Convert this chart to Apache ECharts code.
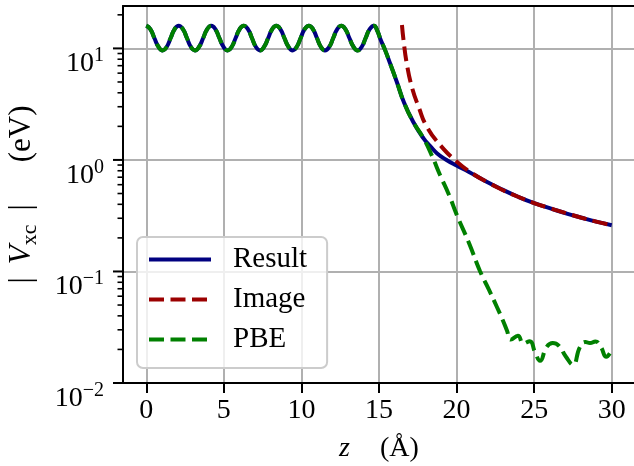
<!DOCTYPE html>
<html>
<head>
<meta charset="utf-8">
<script src="https://cdn.jsdelivr.net/npm/echarts@6/dist/echarts.min.js"></script>
<style>
html, body { margin: 0; padding: 0; background: #fff; }
#chart { width: 634px; height: 466px; }
</style>
</head>
<body>
<div id="chart"></div>
<script>
// Shared part of the potential: oscillations in the slab and the start of the decay (z in Å, |Vxc| in eV)
const coreZ = [
  0.00, 0.26, 0.52, 0.79, 1.05, 1.31, 1.57, 1.83,
  2.09, 2.36, 2.62, 2.88, 3.14, 3.40, 3.67, 3.93,
  4.19, 4.45, 4.71, 4.98, 5.24, 5.50, 5.76, 6.02,
  6.28, 6.55, 6.81, 7.07, 7.33, 7.59, 7.86, 8.12,
  8.38, 8.64, 8.90, 9.17, 9.43, 9.69, 9.95, 10.21,
  10.48, 10.74, 11.00, 11.26, 11.52, 11.79, 12.05, 12.31,
  12.57, 12.83, 13.09, 13.36, 13.62, 13.88, 14.14, 14.40,
  14.67, 14.90, 15.10, 15.40, 15.72, 16.15, 16.60, 17.20, 17.87
];
const coreV = [
  16.0, 14.9, 12.4, 10.3, 9.6, 10.3, 12.4, 14.9,
  16.0, 14.9, 12.4, 10.3, 9.6, 10.3, 12.4, 14.9,
  16.0, 14.9, 12.4, 10.3, 9.6, 10.3, 12.4, 14.9,
  16.0, 14.9, 12.4, 10.3, 9.6, 10.3, 12.4, 14.9,
  16.0, 14.9, 12.4, 10.3, 9.6, 10.3, 12.4, 14.9,
  16.0, 14.9, 12.4, 10.3, 9.6, 10.3, 12.4, 14.9,
  16.0, 14.9, 12.4, 10.3, 9.6, 10.3, 12.4, 14.9,
  16.0, 14.3, 12.0, 9.6, 7.3, 5.0, 3.3, 2.2, 1.56
];

// Result: slow image-like tail in vacuum
const resultTailZ = [18.3, 18.73, 19.3, 20.0, 20.8, 21.7, 22.8, 24.0, 25.0, 26.0, 27.1, 28.0, 29.0, 30.0];
const resultTailV = [1.33, 1.15, 1.01, 0.89, 0.78, 0.665, 0.555, 0.465, 0.41, 0.37, 0.33, 0.305, 0.28, 0.26];

// Image potential
const imageZ = [16.48, 16.58, 16.79, 17.12, 17.55, 18.09, 19.0, 20.0, 21.0, 22.0, 23.0, 24.0, 25.0, 26.0, 27.0, 28.0, 29.0, 30.0];
const imageV = [16.2, 11.9, 7.3, 4.5, 3.0, 1.98, 1.33, 0.97, 0.76, 0.63, 0.535, 0.465, 0.41, 0.37, 0.335, 0.305, 0.28, 0.26];

// PBE: exponential decay down to numerical noise
const pbeTailZ = [18.4, 18.94, 19.5, 20.02, 20.8, 21.52, 22.1, 22.6, 23.0, 23.24, 23.5, 23.95, 24.3, 24.72, 25.05, 25.38,
  25.8, 26.2, 26.6, 27.05, 27.5, 27.95, 28.3, 28.6, 28.95, 29.3, 29.65, 30.0];
const pbeTailV = [1.1, 0.73, 0.49, 0.32, 0.18, 0.10, 0.068, 0.048, 0.036, 0.0297, 0.0245, 0.0265, 0.0226, 0.0237, 0.019, 0.0158,
  0.021, 0.0228, 0.0215, 0.0172, 0.0146, 0.021, 0.0233, 0.0228, 0.0236, 0.021, 0.0172, 0.0198];

// Axis ranges and ticks
const X_MIN = -1.5, X_MAX = 31.5;
const Y_MIN = 0.01, Y_MAX = 24;
const xTicks = [0, 5, 10, 15, 20, 25, 30];
const yMajorTicks = [0.01, 0.1, 1, 10];
const yMinorTicks = [
  0.02, 0.03, 0.04, 0.05, 0.06, 0.07, 0.08, 0.09,
  0.2, 0.3, 0.4, 0.5, 0.6, 0.7, 0.8, 0.9,
  2, 3, 4, 5, 6, 7, 8, 9,
  20
];

const FONT = 'Liberation Serif';
const LW = 4;
const DASH = [15, 6.5];

function pairs(zs, vs) { return zs.map((z, i) => [z, vs[i]]); }
const resultData = pairs(coreZ.concat(resultTailZ), coreV.concat(resultTailV));
const imageData = pairs(imageZ, imageV);
const pbeData = pairs(coreZ.concat(pbeTailZ), coreV.concat(pbeTailV));

// outward tick marks on the log axis, placed through the axis scale
function tickSeries(values, len, width) {
  return {
    type: 'custom',
    silent: true,
    clip: false,
    z: 5,
    data: values.map(v => [X_MIN, v]),
    encode: { x: 0, y: 1 },
    renderItem(params, api) {
      const p = api.coord([api.value(0), api.value(1)]);
      return {
        type: 'line',
        shape: { x1: p[0] - len, y1: p[1], x2: p[0], y2: p[1] },
        style: { stroke: '#000', lineWidth: width }
      };
    }
  };
}

function powLabel(v) {
  const e = Math.log10(v);
  const r = Math.round(e);
  if (Math.abs(e - r) > 1e-6) return '';
  const sup = r < 0 ? '\u2212' + (-r) : String(r);
  return '{b|10}{s|' + sup + '}';
}

const YN = 31;
const chart = echarts.init(document.getElementById('chart'), null, { renderer: 'canvas' });
chart.setOption({
  animation: false,
  backgroundColor: '#fff',
  textStyle: { fontFamily: FONT },
  grid: { left: 123, right: -1, top: 6, bottom: 83, containLabel: false, outerBoundsMode: 'none' },
  xAxis: [
    {
      type: 'value',
      min: X_MIN, max: X_MAX,
      name: '{i|z}{n|(\u00c5)}',
      nameLocation: 'middle',
      nameGap: 52,
      nameTextStyle: {
        rich: {
          i: { fontFamily: FONT, fontSize: 28, fontStyle: 'italic', color: '#000' },
          n: { fontFamily: FONT, fontSize: 28, color: '#000', padding: [0, 0, 0, 30] }
        }
      },
      axisLine: { onZero: false, lineStyle: { color: '#000', width: 2 } },
      axisTick: { customValues: xTicks, length: 10, lineStyle: { color: '#000', width: 2 } },
      axisLabel: { customValues: xTicks, fontFamily: FONT, fontSize: 28, color: '#000', margin: 14 },
      splitLine: { show: true, lineStyle: { color: '#b0b0b0', width: 2 } }
    },
    {
      type: 'value',
      position: 'top',
      min: X_MIN, max: X_MAX,
      z: 10,
      axisLine: { onZero: false, lineStyle: { color: '#000', width: 2 } },
      axisTick: { show: false },
      axisLabel: { show: false },
      splitLine: { show: false }
    }
  ],
  yAxis: {
    type: 'log',
    logBase: 10,
    min: Y_MIN, max: Y_MAX,
    name: '{n||}{v|V}{s|xc}{n||}{g|(eV)}',
    nameLocation: 'middle',
    nameGap: 86,
    nameRotate: 90,
    nameTextStyle: {
      rich: {
        n: { fontFamily: FONT, fontSize: YN, color: '#000', lineHeight: YN, verticalAlign: 'top' },
        v: { fontFamily: FONT, fontSize: YN, fontStyle: 'italic', color: '#000', lineHeight: YN, verticalAlign: 'top', padding: [0, 0, 0, 13] },
        s: { fontFamily: FONT, fontSize: 22, color: '#000', lineHeight: 22, verticalAlign: 'top', padding: [13, 14, 0, 0] },
        g: { fontFamily: FONT, fontSize: YN, color: '#000', lineHeight: YN, verticalAlign: 'top', padding: [0, 0, 0, 42] }
      }
    },
    axisLine: { onZero: false, lineStyle: { color: '#000', width: 2 } },
    axisTick: { show: false },
    axisLabel: {
      margin: 19,
      formatter: powLabel,
      padding: [23, 0, 0, 0],
      rich: {
        b: { fontFamily: FONT, fontSize: 28, color: '#000', lineHeight: 28, verticalAlign: 'top', padding: [4, 0, 0, 0] },
        s: { fontFamily: FONT, fontSize: 20, color: '#000', lineHeight: 20, verticalAlign: 'top' }
      }
    },
    splitLine: { show: true, showMinLine: false, showMaxLine: false, lineStyle: { color: '#b0b0b0', width: 2 } },
    minorTick: { show: false },
    minorSplitLine: { show: false }
  },
  legend: {
    data: ['Result', 'Image', 'PBE'],
    orient: 'vertical',
    left: 137, top: 237,
    itemWidth: 62, itemHeight: 1, itemGap: 11,
    padding: [8, 20, 14, 10],
    backgroundColor: 'rgba(255,255,255,0.8)',
    borderColor: '#cccccc', borderWidth: 2, borderRadius: 6,
    lineStyle: { width: LW },
    itemStyle: { opacity: 0 },
    textStyle: { fontFamily: FONT, fontSize: 29, color: '#000', padding: [0, 0, 0, 17] }
  },
  series: [
    {
      name: 'Result', type: 'line', data: resultData,
      symbol: 'none', smooth: 0.5,
      lineStyle: { color: '#000080', width: LW },
      itemStyle: { color: '#000080' }
    },
    {
      name: 'Image', type: 'line', data: imageData,
      symbol: 'none', smooth: 0.5,
      lineStyle: { color: '#9b0000', width: LW, type: DASH },
      itemStyle: { color: '#9b0000' }
    },
    {
      name: 'PBE', type: 'line', data: pbeData,
      symbol: 'none', smooth: 0.5,
      lineStyle: { color: '#008000', width: LW, type: DASH },
      itemStyle: { color: '#008000' }
    },
    tickSeries(yMajorTicks, 10, 2),
    tickSeries(yMinorTicks, 5.5, 1.6)
  ]
});
</script>
</body>
</html>
